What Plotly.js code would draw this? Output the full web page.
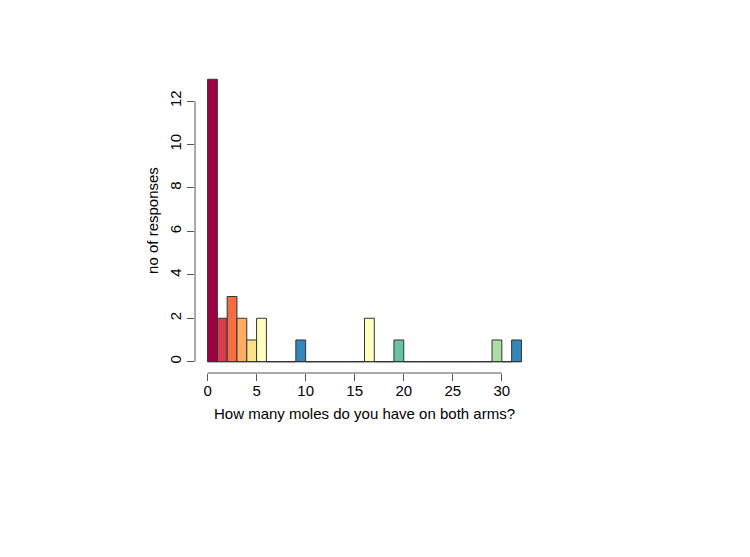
<!DOCTYPE html>
<html>
<head>
<meta charset="utf-8">
<script src="https://cdn.plot.ly/plotly-3.0.1.min.js"></script>
<style>html,body{margin:0;padding:0;background:#fff;}#chart{width:750px;height:557px;}</style>
</head>
<body>
<div id="chart"></div>
<script>
// Histogram bins (width 1) and counts
var binStarts = [0,1,2,3,4,5,6,7,8,9,10,11,12,13,14,15,16,17,18,19,20,21,22,23,24,25,26,27,28,29,30,31];
var counts    = [13,2,3,2,1,2,0,0,0,1,0,0,0,0,0,0,2,0,0,1,0,0,0,0,0,0,0,0,0,1,0,1];
var palette   = ["#9E0142","#D53E4F","#F46D43","#FDAE61","#FEE08B","#FFFFBF","#E6F598","#ABDDA4","#66C2A5","#3288BD","#5E4FA2"];
var xTicks    = [0,5,10,15,20,25,30];
var yTicks    = [0,2,4,6,8,10,12];
var xTitle    = "How many moles do you have on both arms?";
var yTitle    = "no of responses";

var binWidth = 1;
var xs = binStarts.map(function(b){ return b + binWidth/2; });
var cols = binStarts.map(function(b, i){ return palette[i % palette.length]; });

var xMin = binStarts[0], xMax = binStarts[binStarts.length-1] + binWidth;
var yMax = Math.max.apply(null, counts);
var xPad = (xMax - xMin) * 0.04, yPad = yMax * 0.04;

var trace = {
  type: 'bar',
  x: xs,
  y: counts,
  width: binWidth,
  marker: {color: cols, line: {color: '#333333', width: 1}},
  hoverinfo: 'x+y'
};

var axisColor = '#555555';
var layout = {
  width: 750, height: 557,
  paper_bgcolor: '#ffffff', plot_bgcolor: '#ffffff',
  margin: {l: 195, r: 216, t: 68, b: 184},
  showlegend: false,
  bargap: 0,
  font: {family: 'Liberation Sans, Arial, sans-serif', size: 15, color: '#000000'},
  xaxis: {
    range: [xMin - xPad, xMax + xPad],
    tickmode: 'array', tickvals: xTicks, ticktext: xTicks.map(String),
    ticks: 'outside', ticklen: 7, tickcolor: axisColor, tickwidth: 1,
    ticklabelstandoff: -3,
    showgrid: false, zeroline: false, showline: false,
    tickfont: {size: 15},
    title: {text: xTitle, font: {size: 15}, standoff: 10},
    automargin: false
  },
  yaxis: {
    range: [-yPad, yMax + yPad],
    tickmode: 'array', tickvals: yTicks, ticktext: yTicks.map(String),
    ticks: 'outside', ticklen: 7, tickcolor: axisColor, tickwidth: 1,
    tickangle: -90,
    showgrid: false, zeroline: false, showline: false,
    tickfont: {size: 15},
    title: {text: yTitle, font: {size: 15}, standoff: 4},
    automargin: false
  },
  shapes: [
    {type: 'line', xref: 'x', yref: 'paper', x0: xTicks[0], x1: xTicks[xTicks.length-1], y0: 0, y1: 0,
     line: {color: axisColor, width: 1}},
    {type: 'line', xref: 'paper', yref: 'y', x0: 0, x1: 0, y0: yTicks[0], y1: yTicks[yTicks.length-1],
     line: {color: axisColor, width: 1}},
    {type: 'line', xref: 'x', yref: 'y', x0: xMin, x1: xMax, y0: 0, y1: 0,
     line: {color: '#333333', width: 1}, layer: 'above'}
  ]
};

Plotly.newPlot('chart', [trace], layout, {displayModeBar: false, staticPlot: true});
</script>
</body>
</html>
